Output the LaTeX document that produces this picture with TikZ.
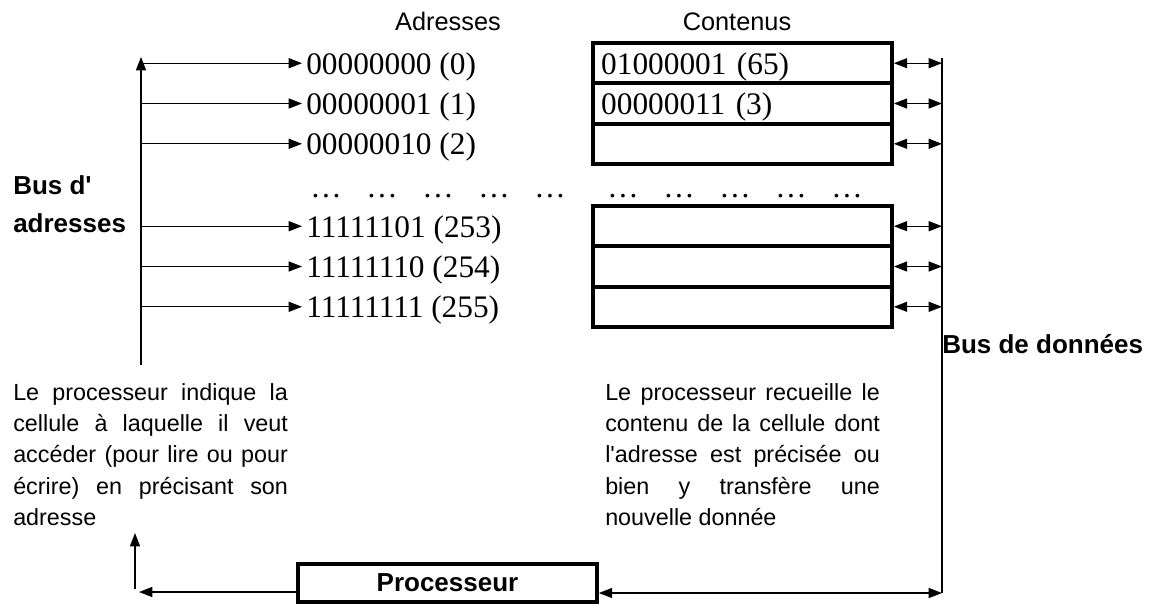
\documentclass[tikz,border=0pt]{standalone}
\usepackage{fontspec}
\setmainfont{Liberation Sans}
\newfontfamily\timesfont{Liberation Serif}
\usetikzlibrary{arrows.meta,positioning,calc}
\newcommand\notetune{\tolerance=9999 \hyphenpenalty=10000\relax}
\tikzset{
  cell/.style={draw,line width=3pt,minimum width=224pt,minimum height=30.2pt,
               text width=212pt,inner xsep=6pt,align=left,text height=18pt,text depth=1.5pt,
               font=\timesfont\fontsize{23.5}{28}\selectfont},
  addr/.style={anchor=west,inner sep=3pt,text height=18pt,text depth=1.5pt,
               font=\timesfont\fontsize{23.5}{28}\selectfont},
  dots/.style={anchor=base west,inner sep=0pt,font=\timesfont\fontsize{23.5}{28}\selectfont},
  head/.style={anchor=base,inner sep=0pt,font=\fontsize{19}{23}\selectfont},
  buslbl/.style={anchor=base west,inner sep=0pt,font=\fontsize{19.5}{24}\selectfont\bfseries},
  note/.style={anchor=north west,inner sep=0pt,text width=206pt,align=justify,
               font=\fontsize{17.5}{23.5}\selectfont},
  proc/.style={draw,line width=3pt,minimum width=224pt,minimum height=28.5pt,
               font=\fontsize{19.5}{24}\selectfont\bfseries},
  arr/.style={-{Triangle[length=10pt,width=7.5pt]},line width=1pt},
  darr/.style={{Triangle[length=10pt,width=7.5pt]}-{Triangle[length=10pt,width=7.5pt]},line width=1pt},
}
\begin{document}
\begin{tikzpicture}[x=0.75pt,y=-0.75pt]
  \useasboundingbox (0,0) rectangle (1149,604);
  \node[head] (hadr) at (448,30) {Adresses};
  \node[head] (hcon) at (737,30) {Contenus};
  \coordinate (atop) at (141,57);
  \coordinate (abot) at (141,365);
  \coordinate (dtop) at (942,58);
  \coordinate (dbot) at (942,593);
  \draw[arr] (abot) -- (atop);
  \draw[line width=1pt] (dtop) -- (dbot);
  \foreach \y/\a/\c [count=\i] in {63.2/00000000 (0)/01000001 (65),
      103.5/00000001 (1)/00000011 (3), 143.8/00000010 (2)/,
      226.2/11111101 (253)/, 266.5/11111110 (254)/, 306.8/11111111 (255)/} {
    \node[addr] (adr\i) at (302,\y) {\a};
    \node[cell] (cel\i) at (742.5,\y) {\c};
    \draw[arr] (adr\i.west -| atop) -- (adr\i.west);
    \draw[darr] (cel\i.east) -- (cel\i.east -| dtop);
  }
  \foreach \i in {0,...,4} {
    \node[dots] (dl\i) at ({310+56*\i},197) {…};
    \node[dots] (dr\i) at ({607+56*\i},197) {…};
  }
  \node[buslbl] (ba1) at (13,194) {Bus d\textquotesingle};
  \node[buslbl] (ba2) at (13,232) {adresses};
  \node[buslbl] (bd) at (942,353) {Bus de données};
  \node[note] (nl) at (13,383) {\notetune Le processeur indique la\linebreak cellule à laquelle il veut\linebreak accéder (pour lire ou pour\linebreak écrire) en précisant son\linebreak adresse};
  \node[note] (nr) at (605,383) {\notetune Le processeur recueille le\linebreak contenu de la cellule dont\linebreak l\textquotesingle adresse est précisée ou\linebreak bien y transfère une\linebreak nouvelle donnée};
  \node[proc] (cpu) at (447.5,583) {Processeur};
  \coordinate (lbot) at (139,592);
  \coordinate (ubot) at (135,589);
  \coordinate (utop) at (135,533);
  \draw[darr] (cpu.east |- dbot) -- (dbot);
  \draw[arr] (cpu.west |- lbot) -- (lbot);
  \draw[arr] (ubot) -- (utop);
\end{tikzpicture}
\end{document}
